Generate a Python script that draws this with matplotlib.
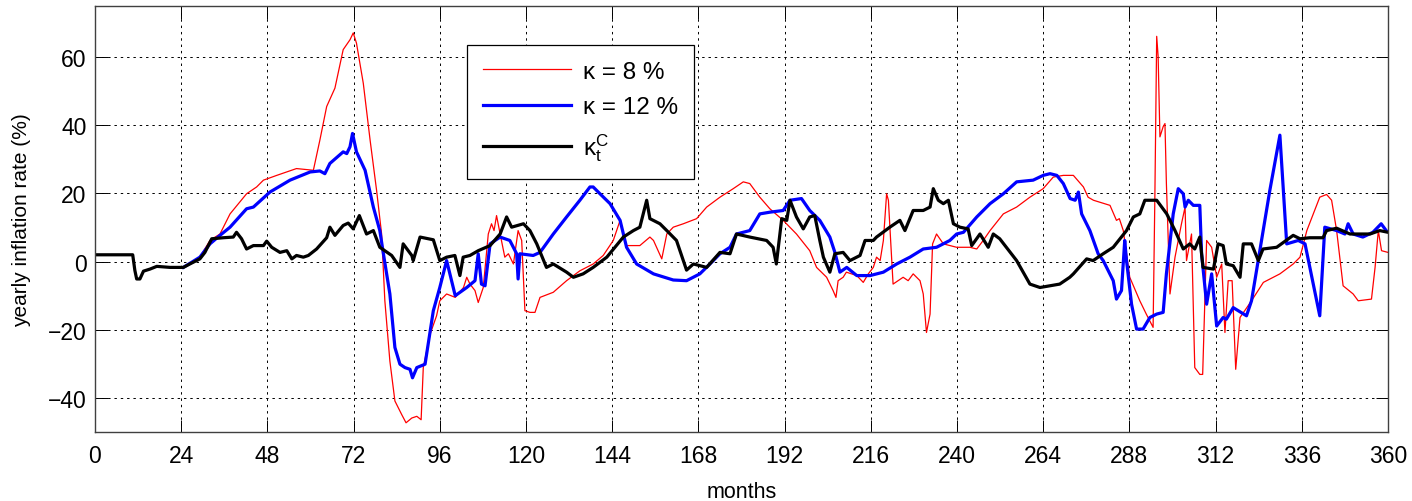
# -*- coding: utf-8 -*-

import matplotlib
matplotlib.use("Agg")
import matplotlib.pyplot as plt

plt.rcParams['font.family'] = ['Liberation Sans', 'DejaVu Sans']
plt.rcParams['mathtext.fontset'] = 'custom'
plt.rcParams['mathtext.rm'] = 'Liberation Sans'
plt.rcParams['mathtext.it'] = 'Liberation Sans'

# kappa = 8 %
months_8 = [24.6, 29.2, 32.0, 34.8, 37.6, 42.2, 45.0, 46.9, 50.6, 56.1, 60.8, 62.6, 64.5, 66.8,
            69.1, 71.0, 71.9, 72.8, 74.7, 76.6, 78.4, 79.8, 80.7, 82.1, 83.5, 85.4, 86.6, 88.2,
            89.6, 90.8, 91.4, 93.3, 95.1, 96.0, 97.9, 100.3, 102.6, 103.5, 104.4, 105.8, 106.7,
            108.1, 109.5, 110.4, 111.1, 111.8, 112.8, 114.1, 115.1, 116.5, 117.8, 118.8, 119.7,
            121.1, 122.5, 123.9, 127.6, 131.3, 135.0, 138.7, 141.5, 144.3, 146.2, 147.1, 148.0,
            151.7, 154.5, 155.5, 157.8, 159.2, 161.0, 163.8, 167.5, 170.3, 174.0, 177.7, 180.5,
            182.3, 185.1, 187.9, 191.6, 195.3, 199.0, 200.9, 203.7, 205.5, 206.3, 206.9, 208.3,
            209.2, 212.1, 213.9, 215.3, 216.7, 217.6, 218.6, 219.5, 220.4, 220.9, 222.2, 225.0,
            226.4, 227.8, 229.7, 230.6, 231.5, 232.5, 233.2, 234.3, 236.2, 239.9, 243.6, 245.5,
            247.3, 249.2, 252.9, 256.6, 260.3, 264.0, 266.8, 269.6, 272.4, 275.2, 276.5, 278.0,
            282.6, 284.4, 285.2, 286.3, 288.1, 290.9, 292.7, 294.6, 295.1, 295.6, 296.0, 296.5,
            297.4, 297.9, 298.3, 299.3, 300.7, 302.5, 303.5, 303.9, 305.3, 306.2, 307.6, 308.4,
            309.5, 310.9, 312.3, 313.7, 314.6, 315.5, 316.6, 317.6, 318.8, 322.0, 325.3, 329.9,
            333.6, 335.5, 337.4, 339.2, 341.0, 342.9, 344.3, 345.7, 347.5, 350.3, 351.7, 355.4,
            356.4, 357.3, 358.2, 360.0]
rate_8 = [-1.7, 1.3, 6.2, 8.1, 14.0, 19.9, 21.9, 23.9, 25.3, 27.3, 26.8, 35.6, 45.5, 50.9,
          62.2, 65.1, 67.1, 64.1, 52.3, 35.6, 20.9, 8.1, -11.5, -29.2, -40.9, -44.9, -47.3, -45.9,
          -45.4, -46.4, -31.1, -21.3, -15.9, -11.5, -9.5, -10.5, -7.6, -4.6, -6.6, -8.5, -12.0,
          -7.6, 8.1, 11.1, 9.1, 13.5, 8.1, 1.3, 2.3, -0.7, 9.1, 6.2, -14.4,
          -14.9, -14.9, -10.5, -9.0, -5.6, -2.7, -0.7, 1.8, 6.2, 12.1, 8.1, 4.7,
          4.7, 7.2, 6.2, 0.8, 8.1, 10.1, 11.1, 12.6, 16.0, 18.9, 21.4, 23.4,
          22.9, 18.9, 15.5, 12.1, 8.1, 3.2, -1.7, -4.6, -8.5, -10.5, -5.6, -4.6,
          -3.1, -4.1, -6.1, -3.6, -1.7, 1.3, 0.3, 6.2, 19.9, 18.0, -6.6, -4.6,
          -5.6, -3.6, -5.6, -9.5, -20.8, -15.4, 5.2, 8.1, 5.2, 4.2, 4.2, 3.7,
          6.2, 9.1, 14.0, 16.0, 18.9, 21.4, 24.8, 25.3, 25.3, 21.9, 18.9, 18.0,
          16.5, 12.1, 12.6, 9.1, -4.6, -11.5, -15.4, -19.3, 19.9, 66.1, 60.2, 36.6,
          39.6, 40.5, 22.9, -9.5, 1.3, 11.1, 16.0, 0.3, 8.1, -31.1, -33.1, -33.1,
          6.2, 4.2, -4.6, -0.7, -20.8, -5.6, -5.6, -31.6, -16.4, -11.5, -6.1, -3.6,
          -0.7, 1.3, 9.1, 14.0, 18.9, 19.7, 18.0, 9.1, -7.1, -9.5, -11.5, -11.0,
          -1.7, 9.1, 3.2, 2.7]

# kappa = 12 %
months_12 = [24.6, 29.2, 32.0, 34.8, 37.6, 42.2, 44.1, 48.7, 54.3, 59.9, 62.6, 64.0, 65.4, 69.1,
             70.1, 71.0, 71.7, 72.8, 75.2, 77.5, 79.3, 80.3, 82.1, 83.5, 84.9, 86.3, 87.7, 88.4,
             89.6, 91.9, 94.2, 96.0, 97.9, 98.8, 100.3, 103.5, 105.8, 106.7, 107.6, 108.6, 110.0,
             112.8, 115.5, 117.4, 117.8, 118.3, 122.0, 123.9, 127.6, 131.3, 135.0, 137.8, 138.7,
             140.6, 143.4, 146.2, 148.0, 150.8, 155.5, 161.0, 164.7, 168.4, 171.2, 174.0, 176.8,
             178.6, 182.3, 185.1, 187.9, 191.6, 193.5, 196.7, 199.0, 201.8, 204.6, 206.0, 207.4,
             209.3, 212.1, 215.8, 219.5, 223.2, 226.9, 230.6, 234.3, 238.0, 239.9, 241.8, 245.5,
             249.2, 252.9, 256.6, 261.2, 264.0, 265.9, 267.8, 269.6, 271.5, 272.9, 273.8, 274.7,
             277.0, 279.3, 280.7, 283.5, 284.4, 285.8, 286.7, 287.2, 288.6, 290.0, 291.8, 293.7,
             295.6, 297.4, 298.3, 300.2, 301.6, 303.0, 303.5, 304.4, 305.8, 307.6, 308.1, 309.5,
             310.9, 312.3, 314.1, 315.0, 316.9, 320.6, 322.0, 324.3, 327.1, 329.9, 331.8, 335.0,
             336.9, 339.2, 341.0, 342.4, 345.7, 348.0, 348.9, 350.3, 353.0, 355.8, 358.1, 359.5]
rate_12 = [-1.7, 1.3, 5.2, 7.7, 10.1, 15.5, 16.0, 20.4, 23.9, 26.3, 26.6, 25.8, 28.8, 32.2,
           31.7, 33.7, 37.6, 32.2, 26.8, 16.0, 9.1, 2.3, -9.5, -25.2, -30.1, -31.1, -31.6, -34.1,
           -31.1, -30.1, -14.4, -7.6, 0.3, -3.6, -10.0, -7.6, -5.6, 2.3, -6.6, -7.1, 5.2,
           7.2, 6.2, 2.3, -5.1, 2.3, 1.8, 2.7, 8.1, 13.1, 18.0, 21.9, 21.9,
           19.9, 17.0, 12.1, 4.2, -0.7, -3.6, -5.4, -5.6, -3.6, -0.7, 2.3, 4.2,
           8.1, 9.1, 14.0, 14.5, 15.0, 18.0, 18.5, 15.0, 12.1, 7.2, 2.7, -3.1,
           -1.7, -4.1, -4.1, -3.1, -0.7, 1.3, 3.7, 4.2, 6.2, 8.1, 8.6, 13.1,
           17.0, 19.9, 23.4, 23.9, 25.3, 25.8, 25.3, 22.9, 18.5, 18.0, 20.4, 14.0,
           9.1, 2.3, 0.3, -5.6, -11.0, -8.5, 6.2, 0.3, -12.5, -19.8, -19.8, -16.4,
           -15.4, -14.9, -3.6, 14.0, 21.4, 19.9, 16.0, 18.0, 16.5, 16.5, 2.3, -12.5,
           -3.6, -18.9, -16.4, -16.9, -13.5, -15.9, -11.5, 3.2, 20.9, 37.1, 5.2, 6.2,
           5.2, -6.6, -15.9, 10.1, 9.1, 8.1, 11.1, 8.1, 7.2, 8.6, 11.1, 9.1]

# kappa_t^C
months_c = [0.0, 10.5, 11.1, 11.6, 12.5, 13.5, 15.3, 17.2, 20.9, 24.6, 26.4, 29.2, 30.6, 32.5,
            35.7, 38.5, 39.4, 40.8, 42.2, 44.1, 46.9, 47.8, 49.2, 51.5, 53.4, 54.8, 56.1, 58.0,
            59.4, 61.7, 64.5, 65.4, 66.8, 69.1, 70.5, 71.9, 73.6, 75.6, 77.5, 79.3, 82.6, 84.9,
            85.8, 88.2, 88.6, 90.5, 94.2, 96.0, 97.9, 100.2, 101.6, 102.5, 104.4, 106.7, 110.0,
            112.8, 114.6, 116.0, 119.3, 121.1, 123.0, 125.7, 127.6, 131.3, 133.2, 135.9, 138.7,
            142.5, 147.1, 149.9, 151.7, 153.6, 154.5, 157.3, 159.2, 161.9, 164.7, 166.6, 170.3,
            174.0, 176.8, 178.6, 182.3, 187.0, 188.8, 189.7, 191.2, 192.6, 193.5, 195.3, 197.2,
            199.0, 200.4, 201.8, 202.8, 204.6, 206.0, 208.3, 210.2, 213.0, 214.4, 216.7, 217.6,
            221.3, 224.1, 225.5, 227.8, 230.6, 232.5, 233.4, 234.8, 236.2, 237.6, 239.0, 240.8,
            243.1, 244.1, 246.4, 248.7, 250.1, 251.9, 256.6, 260.3, 263.1, 265.9, 268.6, 271.4,
            272.4, 276.1, 277.9, 280.7, 283.5, 287.2, 289.1, 290.9, 292.3, 295.6, 298.4, 300.7,
            303.0, 304.8, 306.2, 307.6, 308.5, 311.4, 312.7, 314.1, 315.0, 316.9, 318.8, 319.7,
            322.0, 323.9, 325.2, 329.0, 333.6, 335.5, 338.2, 341.9, 342.9, 345.7, 349.4, 355.0,
            357.7, 360.0]
rate_c = [2.0, 2.0, -2.6, -5.1, -5.1, -2.8, -2.2, -1.4, -1.7, -1.7, -0.7, 0.8, 2.7, 6.7,
          7.0, 7.2, 8.6, 6.7, 3.7, 4.7, 4.7, 6.0, 4.2, 2.7, 3.2, 0.8, 1.8, 1.3,
          1.8, 3.7, 7.0, 10.1, 7.7, 10.6, 11.3, 9.6, 13.5, 8.1, 9.1, 4.2, 1.8, -1.7,
          5.2, 1.8, 0.3, 7.2, 6.4, 0.3, 1.3, 1.8, -4.1, 1.3, 1.8, 3.2, 4.7,
          8.1, 13.1, 10.1, 11.1, 9.1, 5.2, -1.7, -0.7, -3.1, -4.6, -3.6, -1.7,
          1.3, 7.2, 9.1, 10.1, 18.0, 12.6, 11.1, 9.1, 6.2, -2.5, -0.7, -1.7,
          2.7, 2.3, 8.1, 7.2, 6.2, 4.2, -0.7, 12.6, 12.1, 18.0, 13.1, 9.6,
          13.1, 13.5, 6.2, 1.3, -3.1, 2.3, 2.7, 0.3, 1.8, 6.2, 6.2, 7.2,
          10.1, 12.1, 9.1, 15.0, 15.0, 16.0, 21.4, 18.0, 17.0, 18.0, 11.1, 10.1,
          9.6, 4.7, 8.1, 4.2, 8.1, 6.7, 0.3, -6.6, -7.6, -7.1, -6.6, -4.6,
          -3.6, 0.8, 0.3, 2.3, 4.2, 9.1, 13.1, 14.0, 18.0, 18.0, 14.0, 9.1,
          3.7, 5.2, 3.7, 7.2, -1.7, -2.2, 5.2, 4.7, -0.7, -1.2, -4.6, 5.2,
          5.2, 0.3, 3.7, 4.2, 7.7, 6.7, 7.0, 7.0, 9.1, 9.8, 8.1, 8.1,
          9.1, 8.6]

labels = [u"κ = 8 %", u"κ = 12 %", r"$\mathregular{\kappa_t^C}$"]

fig = plt.figure(figsize=(14.12, 5.02), dpi=100)
ax = fig.add_axes([95 / 1412, 1 - 433 / 502, 1293 / 1412, 426 / 502])

line1, = ax.plot(months_8, rate_8, color='#ff0000', lw=0.9)
line2, = ax.plot(months_12, rate_12, color='#0000ff', lw=2.3)
line3, = ax.plot(months_c, rate_c, color='k', lw=2.3)

ax.set_xlim(0, 360)
ax.set_ylim(-50, 75)
ax.set_xticks(range(0, 361, 24))
ax.set_yticks(range(-40, 61, 20))
ax.grid(True, linestyle=(0, (2.5, 4)), color='k', linewidth=0.7)
ax.tick_params(direction='in', length=9, width=0.7, top=True, right=True,
               labelsize=16.5, pad=6)
ax.tick_params(axis='x', pad=9)
for sp in ax.spines.values():
    sp.set_color('#404040')
    sp.set_linewidth(1.0)

ax.set_xlabel("months", fontsize=15.5, labelpad=10)
ax.set_ylabel("yearly inflation rate (%)", fontsize=15, labelpad=12)

leg = ax.legend([line1, line2, line3], labels, loc='upper left',
                bbox_to_anchor=(0.288, 0.908), fontsize=17.5, frameon=True,
                fancybox=False, framealpha=1, edgecolor='k', handlelength=3.6,
                handletextpad=0.5, borderpad=0.65, labelspacing=0.55,
                borderaxespad=0)
leg.get_frame().set_linewidth(0.9)

fig.savefig("out.png", dpi=100)
